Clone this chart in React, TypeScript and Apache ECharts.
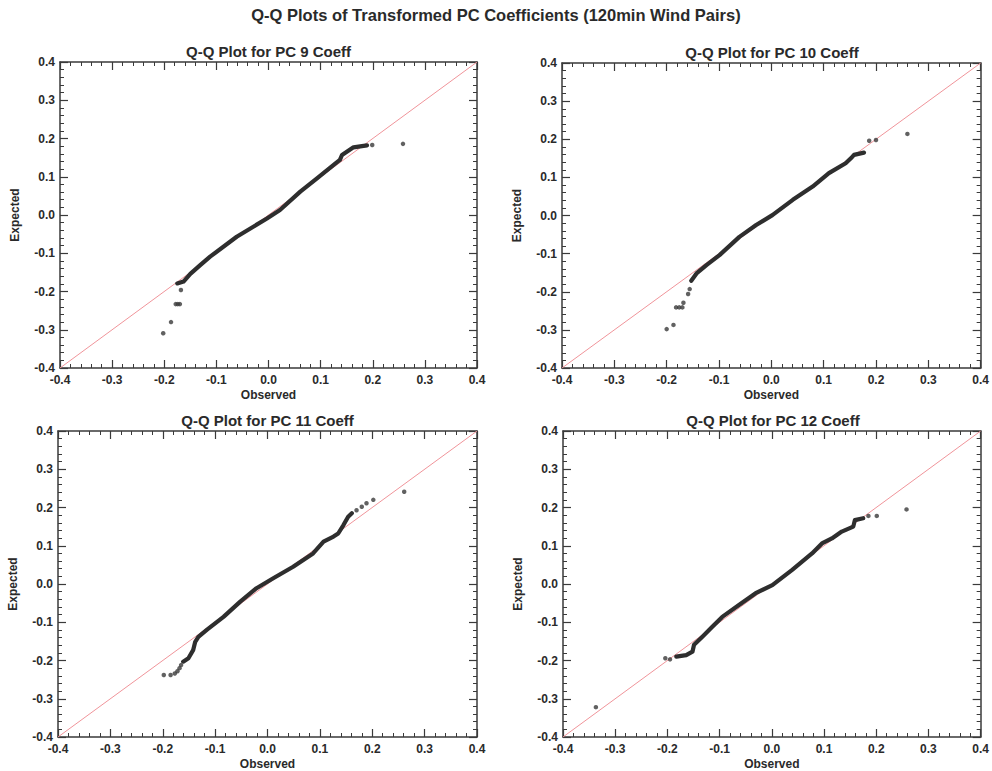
import React, { useEffect, useRef } from "react";
import * as echarts from "echarts";

const AXIS_MIN = -0.4;
const AXIS_MAX = 0.4;
const AXIS_STEP = 0.1;

const mainTitle = "Q-Q Plots of Transformed PC Coefficients (120min Wind Pairs)";
const plotTitles = [
  "Q-Q Plot for PC 9 Coeff",
  "Q-Q Plot for PC 10 Coeff",
  "Q-Q Plot for PC 11 Coeff",
  "Q-Q Plot for PC 12 Coeff",
];
const xName = "Observed";
const yName = "Expected";

const refLine = [
  [-0.4, -0.4],
  [0.4, 0.4],
];

// dense part of each Q-Q cloud [observed, expected]
const pc9Body = [
  [-0.175, -0.179], [-0.163, -0.174], [-0.15, -0.154], [-0.131, -0.131],
  [-0.112, -0.109], [-0.061, -0.057], [-0.003, -0.009], [0.022, 0.013],
  [0.061, 0.061], [0.093, 0.096], [0.125, 0.131], [0.137, 0.144],
  [0.141, 0.157], [0.163, 0.177], [0.189, 0.182],
];
const pc9Tail = [
  [-0.202, -0.309], [-0.187, -0.28], [-0.178, -0.233], [-0.174, -0.233],
  [-0.17, -0.233], [-0.168, -0.196], [0.199, 0.183], [0.258, 0.186],
];

const pc10Body = [
  [-0.153, -0.171], [-0.143, -0.152], [-0.124, -0.13], [-0.099, -0.104],
  [-0.061, -0.056], [-0.029, -0.025], [0.002, 0.001], [0.041, 0.041],
  [0.079, 0.076], [0.11, 0.111], [0.142, 0.137], [0.152, 0.15],
  [0.158, 0.159], [0.177, 0.165],
];
const pc10Tail = [
  [-0.2, -0.298], [-0.187, -0.287], [-0.182, -0.241], [-0.176, -0.241],
  [-0.17, -0.241], [-0.168, -0.229], [-0.159, -0.206], [-0.156, -0.193],
  [0.187, 0.196], [0.2, 0.198], [0.26, 0.214],
];

const pc11Body = [
  [-0.161, -0.203], [-0.151, -0.194], [-0.142, -0.173], [-0.138, -0.151],
  [-0.132, -0.138], [-0.116, -0.12], [-0.084, -0.086], [-0.052, -0.046],
  [-0.021, -0.011], [0.011, 0.015], [0.049, 0.045], [0.087, 0.08],
  [0.107, 0.111], [0.126, 0.124], [0.135, 0.132], [0.145, 0.154],
  [0.154, 0.176], [0.161, 0.185],
];
const pc11Tail = [
  [-0.198, -0.238], [-0.185, -0.238], [-0.177, -0.234], [-0.172, -0.228],
  [-0.168, -0.22], [-0.165, -0.212], [0.17, 0.193], [0.18, 0.202],
  [0.189, 0.211], [0.202, 0.22], [0.261, 0.241],
];

const pc12Body = [
  [-0.183, -0.19], [-0.164, -0.186], [-0.152, -0.177], [-0.149, -0.159],
  [-0.133, -0.138], [-0.114, -0.112], [-0.095, -0.086], [-0.063, -0.055],
  [-0.031, -0.024], [0.001, -0.003], [0.039, 0.037], [0.077, 0.08],
  [0.096, 0.106], [0.115, 0.119], [0.134, 0.137], [0.156, 0.15],
  [0.159, 0.167], [0.175, 0.172],
];
const pc12Tail = [
  [-0.337, -0.322], [-0.204, -0.194], [-0.195, -0.197], [0.185, 0.178],
  [0.201, 0.178], [0.258, 0.195],
];

const bodies = [pc9Body, pc10Body, pc11Body, pc12Body];
const tails = [pc9Tail, pc10Tail, pc11Tail, pc12Tail];

const grids = [
  { left: 60, top: 62, width: 417, height: 306 },
  { left: 562, top: 63, width: 420, height: 305 },
  { left: 58, top: 431, width: 419, height: 306 },
  { left: 563, top: 431, width: 420, height: 306 },
];

const FONT = "Liberation Sans, Arial, sans-serif";
const AXIS_COLOR = "#3a3a3a";
const TEXT_COLOR = "#2a2a2a";

function fmt(v: number) {
  if (Math.abs(v) < 1e-9) return "0.0";
  return v.toFixed(1);
}

function buildOption() {
  const xAxis: any[] = [];
  const yAxis: any[] = [];
  const series: any[] = [];
  const titles: any[] = [
    {
      text: mainTitle,
      left: "center",
      top: 6,
      padding: 0,
      textStyle: { fontFamily: FONT, fontSize: 16.5, fontWeight: "bold", color: TEXT_COLOR },
    },
  ];

  const common = {
    type: "value",
    min: AXIS_MIN,
    max: AXIS_MAX,
    interval: AXIS_STEP,
    splitLine: { show: false },
    axisLine: { show: true, onZero: false, lineStyle: { color: AXIS_COLOR, width: 1.5 } },
    axisTick: { show: true, inside: true, length: 8, lineStyle: { color: AXIS_COLOR, width: 1.2 } },
    minorTick: { show: true, splitNumber: 5, length: 4, lineStyle: { color: AXIS_COLOR, width: 1 } },
  };

  grids.forEach((g, i) => {
    const gx = g.left + g.width / 2;
    titles.push({
      text: plotTitles[i],
      left: gx,
      textAlign: "center",
      top: g.top - 18,
      padding: 0,
      textStyle: { fontFamily: FONT, fontSize: 15, fontWeight: "bold", color: TEXT_COLOR },
    });

    xAxis.push({
      ...common,
      gridIndex: i,
      position: "bottom",
      name: xName,
      nameLocation: "middle",
      nameGap: 21,
      nameTextStyle: { fontFamily: FONT, fontSize: 12, fontWeight: "bold", color: TEXT_COLOR },
      axisLabel: {
        margin: 6,
        fontFamily: FONT,
        fontSize: 12,
        fontWeight: "bold",
        color: TEXT_COLOR,
        formatter: fmt,
      },
    });
    xAxis.push({
      ...common,
      gridIndex: i,
      position: "top",
      axisLabel: { show: false },
    });
    yAxis.push({
      ...common,
      gridIndex: i,
      position: "left",
      name: yName,
      nameLocation: "middle",
      nameGap: 39,
      nameRotate: 90,
      nameTextStyle: { fontFamily: FONT, fontSize: 12, fontWeight: "bold", color: TEXT_COLOR },
      axisLabel: {
        margin: 5,
        fontFamily: FONT,
        fontSize: 12,
        fontWeight: "bold",
        color: TEXT_COLOR,
        formatter: fmt,
      },
    });
    yAxis.push({
      ...common,
      gridIndex: i,
      position: "right",
      axisLabel: { show: false },
    });

    const xi = i * 2;
    const yi = i * 2;
    series.push({
      type: "line",
      xAxisIndex: xi,
      yAxisIndex: yi,
      data: refLine,
      showSymbol: false,
      symbol: "none",
      lineStyle: { color: "#f0949a", width: 1 },
      silent: true,
      z: 1,
    });
    series.push({
      type: "line",
      xAxisIndex: xi,
      yAxisIndex: yi,
      data: bodies[i],
      showSymbol: false,
      symbol: "none",
      lineStyle: { color: "#2e2e2e", width: 4.2, cap: "round", join: "round" },
      silent: true,
      z: 3,
    });
    series.push({
      type: "scatter",
      xAxisIndex: xi,
      yAxisIndex: yi,
      data: tails[i],
      symbol: "circle",
      symbolSize: 4.5,
      itemStyle: { color: "#3a3a3a" },
      silent: true,
      z: 3,
    });
  });

  return {
    animation: false,
    backgroundColor: "#ffffff",
    title: titles,
    grid: grids.map((g) => ({ ...g, containLabel: false })),
    xAxis,
    yAxis,
    series,
  };
}

export default function App() {
  const ref = useRef<HTMLDivElement>(null);
  useEffect(() => {
    if (!ref.current) return;
    const chart = echarts.init(ref.current, undefined, { renderer: "svg" });
    chart.setOption(buildOption() as any);
    return () => chart.dispose();
  }, []);
  return (
    <div
      ref={ref}
      style={{ position: "absolute", left: 0, top: 0, width: 992, height: 771, background: "#fff" }}
    />
  );
}
